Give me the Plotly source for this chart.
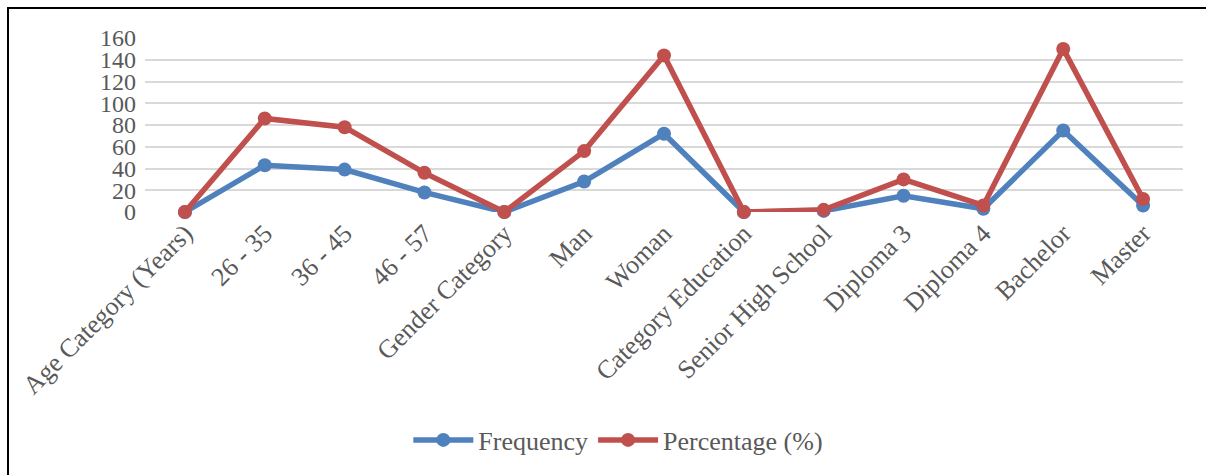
import plotly.graph_objects as go

categories = [
    "Age Category (Years)", "26 - 35", "36 - 45", "46 - 57", "Gender Category",
    "Man", "Woman", "Category Education", "Senior High School", "Diploma 3",
    "Diploma 4", "Bachelor", "Master",
]
frequency = [0, 43, 39, 18, 0, 28, 72, 0, 1, 15, 3, 75, 6]
percentage = [0, 86, 78, 36, 0, 56, 144, 0, 2, 30, 6, 150, 12]
y_ticks = [0, 20, 40, 60, 80, 100, 120, 140, 160]

BLUE = "#4f81bd"
RED = "#c0504d"
TEXT = "#595959"
FONT = "Liberation Serif"

W, H = 1206, 475
L, R, T, B = 145, 23, 38, 263

fig = go.Figure()
for name, vals, col in [("Frequency", frequency, BLUE), ("Percentage (%)", percentage, RED)]:
    fig.add_trace(go.Scatter(
        x=categories, y=vals, name=name, mode="lines+markers",
        line=dict(color=col, width=5.5),
        marker=dict(color=col, size=14),
        cliponaxis=False,
    ))

def px_to_paper_x(px):
    return (px - L) / (W - L - R)

def px_to_paper_y(py):
    return (H - B - py) / (H - T - B)

# frame lines on the left and top edges
fig.add_shape(type="line", xref="paper", yref="paper",
              x0=px_to_paper_x(8), x1=px_to_paper_x(8),
              y0=px_to_paper_y(8), y1=px_to_paper_y(480),
              line=dict(color="black", width=2))
fig.add_shape(type="line", xref="paper", yref="paper",
              x0=px_to_paper_x(7), x1=px_to_paper_x(1210),
              y0=px_to_paper_y(8), y1=px_to_paper_y(8),
              line=dict(color="black", width=2))

fig.update_layout(
    width=W, height=H,
    margin=dict(l=L, r=R, t=T, b=B, pad=0),
    paper_bgcolor="white", plot_bgcolor="white",
    font=dict(family=FONT, size=25, color=TEXT),
    showlegend=True,
    legend=dict(orientation="h", x=0.456, xanchor="center",
                y=px_to_paper_y(440), yanchor="middle",
                itemwidth=60, font=dict(size=26, color=TEXT),
                bgcolor="rgba(0,0,0,0)", tracegroupgap=0),
    xaxis=dict(type="category", range=[-0.5, len(categories) - 0.5],
               tickangle=-45, showgrid=False, showline=False, ticks="",
               tickfont=dict(size=26, color=TEXT), automargin=False),
    yaxis=dict(range=[0, 160], tickvals=y_ticks, showgrid=True,
               gridcolor="#d9d9d9", gridwidth=2, zeroline=False,
               showline=False, ticks="", ticklabelstandoff=8,
               tickfont=dict(size=24, color=TEXT), automargin=False),
)

fig.write_html("out.html")
